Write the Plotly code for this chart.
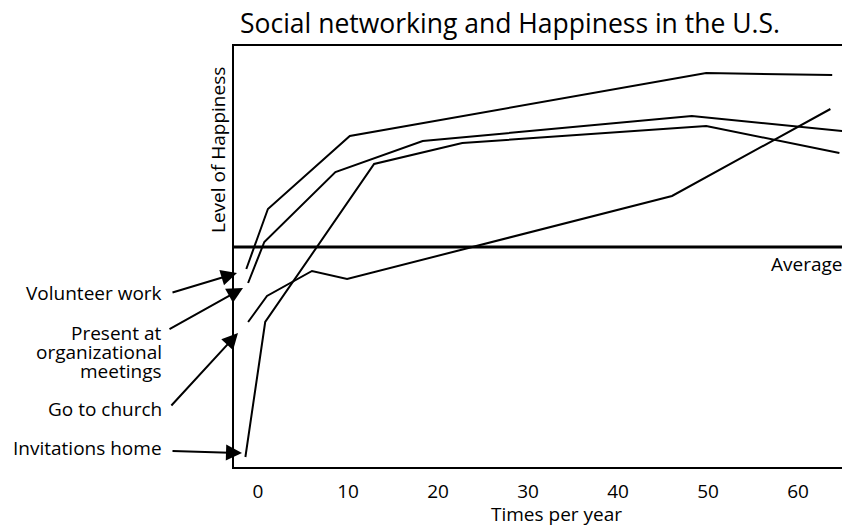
import plotly.graph_objects as go

# ---- data ("Level of Happiness" in arbitrary units, Average = 0)
volunteer_x = [-1.3, 1.1, 10.2, 49.8, 63.8]
volunteer_y = [-2.2, 3.8, 11.1, 17.4, 17.2]

meetings_x = [-1.1, 0.7, 8.6, 18.3, 48.2, 64.9]
meetings_y = [-3.6, 0.5, 7.5, 10.6, 13.1, 11.6]

church_x = [-1.1, 1.0, 6.0, 9.9, 46.0, 63.6]
church_y = [-7.5, -4.9, -2.4, -3.2, 5.1, 13.8]

invitations_x = [-1.4, 0.8, 12.9, 22.7, 49.8, 64.6]
invitations_y = [-21.0, -7.5, 8.3, 10.4, 12.1, 9.4]

average_level = 0
x_ticks = [0, 10, 20, 30, 40, 50, 60]
x_tick_labels = ["0", "10", "20", "30", "40", "50", "60"]

title_text = "Social networking and Happiness in the U.S."
x_title = "Times per year"
y_title = "Level of Happiness"

# ---- layout geometry (page body has an 8px margin, so shift by OFF)
OFF = 8
W, H = 850 - OFF, 526 - OFF
PLOT_L, PLOT_T, PLOT_B, PLOT_R = 234, 46, 467, 850   # in window pixels
L = PLOT_L - OFF
T = PLOT_T - OFF
B = H - (PLOT_B - OFF)
R = W - (PLOT_R - OFF)
PW, PH = W - L - R, H - T - B
FONT = "Open Sans"
FS = 19


def px_x(p):
    return (p - PLOT_L) / PW


def px_y(p):
    return (PLOT_B - p) / PH


fig = go.Figure()
for xs, ys, name in [
    (volunteer_x, volunteer_y, "Volunteer work"),
    (meetings_x, meetings_y, "Present at organizational meetings"),
    (church_x, church_y, "Go to church"),
    (invitations_x, invitations_y, "Invitations home"),
]:
    fig.add_trace(go.Scatter(x=xs, y=ys, mode="lines", name=name,
                             line=dict(color="black", width=2),
                             showlegend=False))

fig.add_shape(type="line", xref="paper", x0=0, x1=1, yref="y",
              y0=average_level, y1=average_level,
              line=dict(color="black", width=3))

annotations = []
annotations.append(dict(text=title_text, xref="paper", yref="paper",
                        x=px_x(510), y=px_y(23), showarrow=False,
                        xanchor="center", yanchor="middle",
                        font=dict(size=26.5, color="black", family=FONT)))
annotations.append(dict(text=x_title, xref="paper", yref="paper",
                        x=px_x(556), y=px_y(514), showarrow=False,
                        xanchor="center", yanchor="middle",
                        font=dict(size=FS, color="black", family=FONT)))
annotations.append(dict(text=y_title, xref="paper", yref="paper",
                        x=px_x(218), y=px_y(150), showarrow=False,
                        textangle=-90, xanchor="center", yanchor="middle",
                        font=dict(size=FS, color="black", family=FONT)))
annotations.append(dict(text="Average", xref="paper", yref="paper",
                        x=px_x(844), y=px_y(264), showarrow=False,
                        xanchor="right", yanchor="middle",
                        font=dict(size=FS, color="black", family=FONT)))
for txt, yy in [("Volunteer work", 293), ("Present at", 333),
                ("organizational", 352), ("meetings", 371),
                ("Go to church", 409), ("Invitations home", 448)]:
    annotations.append(dict(text=txt, xref="paper", yref="paper",
                            x=px_x(164), y=px_y(yy), showarrow=False,
                            xanchor="right", yanchor="middle",
                            font=dict(size=FS, color="black", family=FONT)))
for (tx, ty), (sx, sy) in [((237, 273), (171, 293)),
                           ((243, 288), (168, 330)),
                           ((238, 333), (170, 407)),
                           ((242, 453), (171, 451))]:
    annotations.append(dict(text="", xref="paper", yref="paper",
                            x=px_x(tx), y=px_y(ty), showarrow=True,
                            axref="pixel", ayref="pixel",
                            ax=sx - tx, ay=sy - ty,
                            arrowhead=2, arrowsize=1.6, arrowwidth=2,
                            arrowcolor="black"))

fig.update_layout(
    width=W, height=H,
    margin=dict(l=L, r=R, t=T, b=B),
    paper_bgcolor="white", plot_bgcolor="white",
    annotations=annotations,
    xaxis=dict(range=[(PLOT_L - 258) / 9, (PLOT_L - 258) / 9 + PW / 9],
               tickvals=x_ticks, ticktext=x_tick_labels,
               showgrid=False, zeroline=False,
               showline=True, mirror=True, linecolor="black", linewidth=2,
               ticks="", ticklabelstandoff=6,
               tickfont=dict(size=FS, color="black", family=FONT)),
    yaxis=dict(range=[-22.0, 20.1], showticklabels=False,
               showgrid=False, zeroline=False,
               showline=True, mirror=False, linecolor="black", linewidth=2,
               ticks=""),
)

fig.write_html("out.html")
